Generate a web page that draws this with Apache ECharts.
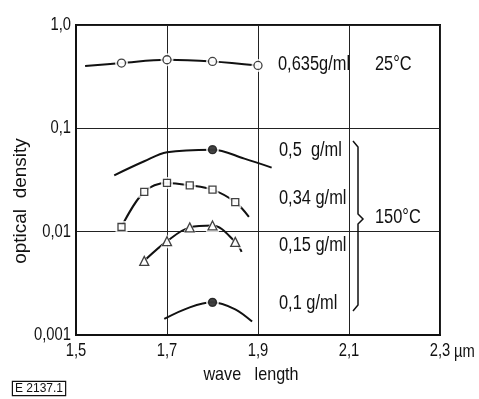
<!DOCTYPE html>
<html>
<head>
<meta charset="utf-8">
<script src="https://cdn.jsdelivr.net/npm/echarts@6/dist/echarts.min.js"></script>
<style>
  html, body { margin: 0; padding: 0; background: #fff; }
  #chart { width: 479px; height: 399px; }
</style>
</head>
<body>
<div id="chart"></div>
<script>
// Axis ticks and their labels (decimal comma)
const xTicks = [1.5, 1.7, 1.9, 2.1, 2.3];
const xTickLabels = ['1,5', '1,7', '1,9', '2,1', '2,3'];
const yTicks = [0.001, 0.01, 0.1, 1];
const yTickLabels = ['0,001', '0,01', '0,1', '1,0'];

// 0,635 g/ml at 25 °C (open circles)
const lam635 = [1.52, 1.6, 1.7, 1.8, 1.9];
const od635  = [0.40, 0.428, 0.461, 0.444, 0.406];
const mk635  = [false, true, true, true, true];

// 0,5 g/ml at 150 °C (filled circle)
const lam50 = [1.584, 1.65, 1.7, 1.8, 1.87, 1.93];
const od50  = [0.0351, 0.048, 0.0586, 0.0622, 0.0509, 0.0417];
const mk50  = [false, false, false, true, false, false];

// 0,34 g/ml at 150 °C (open squares)
const lam34 = [1.6, 1.65, 1.7, 1.75, 1.8, 1.85, 1.88];
const od34  = [0.0111, 0.0243, 0.0296, 0.0281, 0.0255, 0.0193, 0.0139];
const mk34  = [true, true, true, true, true, true, false];

// 0,15 g/ml at 150 °C (open triangles)
const lam15 = [1.65, 1.7, 1.75, 1.8, 1.85, 1.864];
const od15  = [0.00522, 0.00809, 0.0110, 0.01148, 0.00797, 0.00638];
const mk15  = [true, true, true, true, true, false];

// 0,1 g/ml at 150 °C (filled circle)
const lam10 = [1.694, 1.75, 1.8, 1.85, 1.887];
const od10  = [0.00143, 0.00185, 0.00207, 0.00177, 0.00135];
const mk10  = [false, false, true, false, false];

const FONT = '"Liberation Sans", Arial, sans-serif';
const INK = '#111';
const NARROW = 0.82;   // horizontal squeeze for a condensed look

// One curve = smooth line + white halo behind markers + markers on top
function curve(lam, od, mk, symbol, size, filled) {
  const pts = lam.map((x, i) => [x, od[i]]);
  const marked = pts.filter((p, i) => mk[i]);
  return [
    {
      type: 'line', data: pts, smooth: 0.35, symbol: 'none', showSymbol: false,
      lineStyle: { color: INK, width: 2 }, z: 2, silent: true
    },
    {
      type: 'scatter', data: marked, symbol: symbol, symbolSize: size + 5,
      itemStyle: { color: '#fff' }, z: 3, silent: true
    },
    {
      type: 'scatter', data: marked, symbol: symbol, symbolSize: size,
      itemStyle: { color: filled ? INK : '#fff', borderColor: INK, borderWidth: 1.3 },
      z: 4, silent: true
    }
  ];
}

const series = [].concat(
  curve(lam635, od635, mk635, 'circle', 8, false),
  curve(lam50, od50, mk50, 'circle', 8, true),
  curve(lam34, od34, mk34, 'rect', 7, false),
  curve(lam15, od15, mk15, 'triangle', 9, false),
  curve(lam10, od10, mk10, 'circle', 8, true)
);

function label(text, x, y, size, align) {
  return {
    type: 'text', x: x, y: y, z: 10, scaleX: NARROW,
    style: { text: text, fill: INK, font: size + 'px ' + FONT, verticalAlign: 'middle', align: align || 'left' }
  };
}

const chart = echarts.init(document.getElementById('chart'), null, { renderer: 'canvas' });
chart.setOption({
  animation: false,
  backgroundColor: '#fff',
  grid: {
    left: 76, right: 39, top: 25, bottom: 64,
    show: true, borderColor: INK, borderWidth: 2, backgroundColor: 'transparent'
  },
  xAxis: {
    type: 'value', min: 1.5, max: 2.3, interval: 0.2,
    axisLine: { show: true, lineStyle: { color: INK, width: 2 } },
    axisTick: { show: false },
    axisLabel: { show: false },
    splitLine: { show: true, lineStyle: { color: '#222', width: 1 } }
  },
  yAxis: {
    type: 'log', logBase: 10, min: 0.001, max: 1,
    axisLine: { show: true, lineStyle: { color: INK, width: 2 } },
    axisTick: { show: false },
    axisLabel: { show: false },
    minorTick: { show: false },
    splitLine: { show: true, lineStyle: { color: '#222', width: 1.2 } }
  },
  series: series
});

// Condensed tick labels placed at the axis scale positions
const tickText = [];
xTicks.forEach((v, i) => {
  const p = chart.convertToPixel({ gridIndex: 0 }, [v, yTicks[0]]);
  tickText.push(label(xTickLabels[i], p[0], p[1] + 16, 18, 'center'));
  if (i === xTicks.length - 1) tickText.push(label('µm', p[0] + 14, p[1] + 17, 18, 'left'));
});
yTicks.forEach((v, i) => {
  const p = chart.convertToPixel({ gridIndex: 0 }, [xTicks[0], v]);
  tickText.push(label(yTickLabels[i], p[0] - 5, p[1], 18, 'right'));
});

chart.setOption({
  graphic: tickText.concat([
    label('0,635g/ml', 278, 64, 20),
    label('25°C', 375, 64, 20),
    label('0,5  g/ml', 279, 150, 20),
    label('0,34 g/ml', 279, 198, 20),
    label('0,15 g/ml', 279, 245, 20),
    label('0,1 g/ml', 279, 303, 20),
    label('150°C', 375, 217, 20),
    {
      type: 'polyline', z: 10,
      shape: { points: [[353, 141], [358, 147], [358, 214], [363, 219], [358, 224], [358, 305], [353, 311]] },
      style: { stroke: INK, lineWidth: 1.5, fill: null }
    },
    {
      type: 'text', x: 21, y: 201, rotation: Math.PI / 2, z: 10,
      style: { text: 'optical  density', fill: INK, font: '19px ' + FONT, align: 'center', verticalAlign: 'middle' }
    },
    {
      type: 'text', x: 251, y: 375, z: 10, scaleX: 0.85,
      style: { text: 'wave   length', fill: INK, font: '19px ' + FONT, align: 'center', verticalAlign: 'middle' }
    },
    {
      type: 'text', x: 13, y: 382, z: 10,
      style: {
        text: 'E 2137.1', fill: INK, font: '12px ' + FONT, align: 'left', verticalAlign: 'top',
        borderColor: INK, borderWidth: 1.2, padding: [1, 2, 0, 2], backgroundColor: '#fff'
      }
    }
  ])
});
</script>
</body>
</html>
